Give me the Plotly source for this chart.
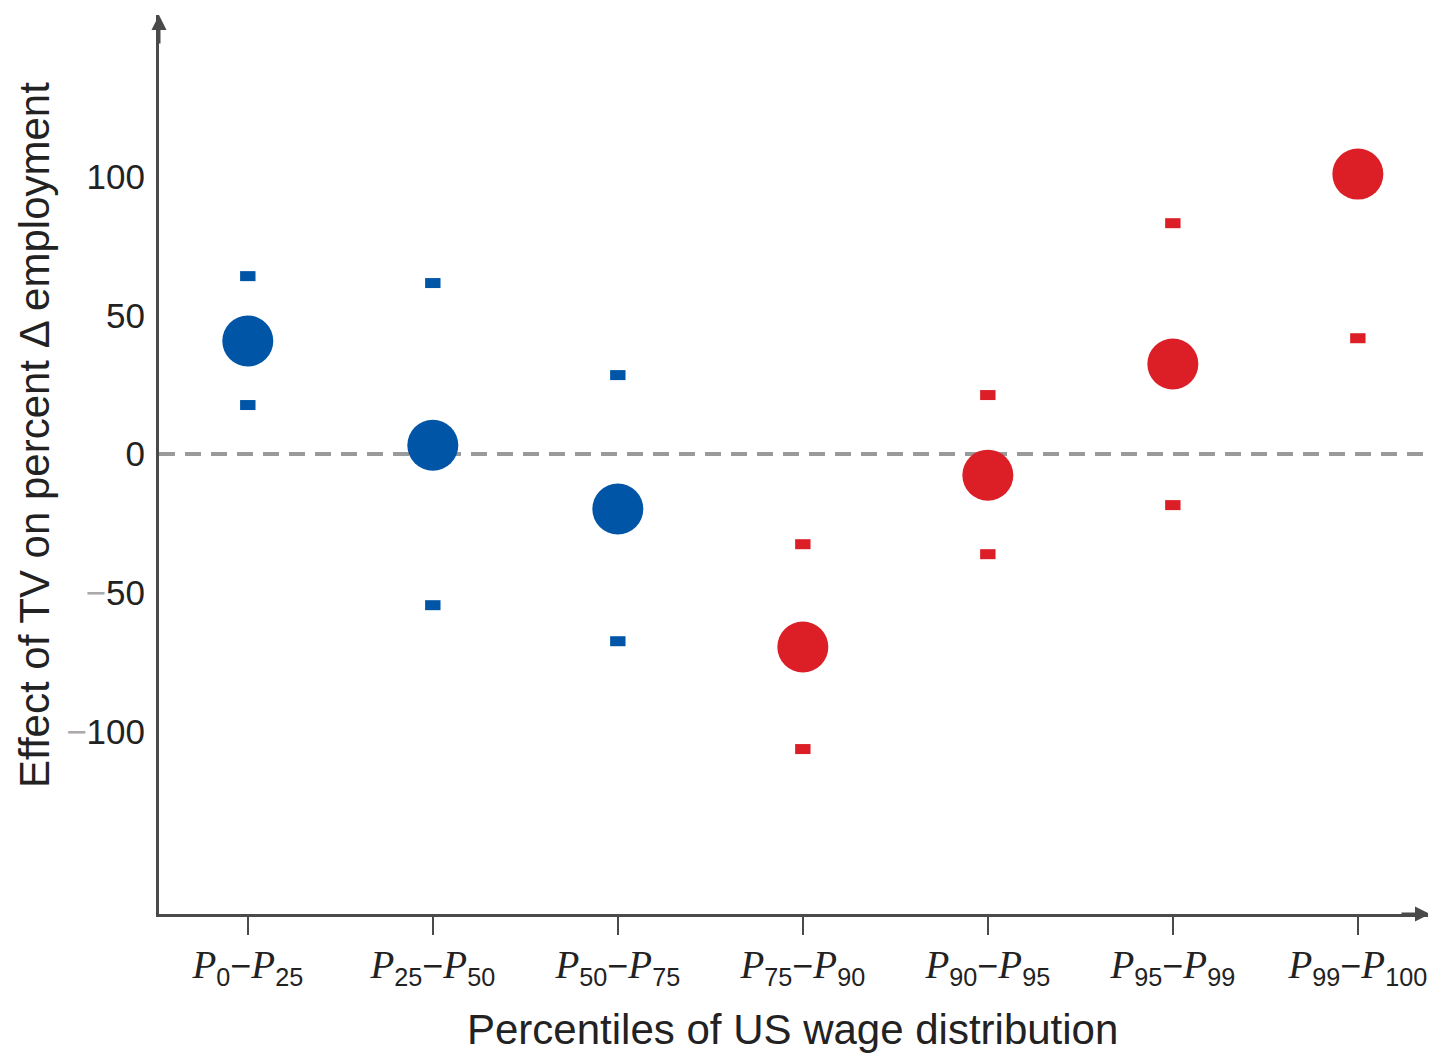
import plotly.graph_objects as go

# ---- data ----
categories = ["P0-P25", "P25-P50", "P50-P75", "P75-P90", "P90-P95", "P95-P99", "P99-P100"]
tick_labels = [
    ("0", "25"), ("25", "50"), ("50", "75"), ("75", "90"),
    ("90", "95"), ("95", "99"), ("99", "100"),
]
estimate = [40.8, 3.2, -19.8, -69.6, -7.6, 32.5, 101.0]
upper_ci = [64.2, 61.7, 28.5, -32.5, 21.3, 83.3, 159.8]
lower_ci = [17.7, -54.5, -67.5, -106.4, -36.1, -18.4, 41.8]
group = ["low", "low", "low", "high", "high", "high", "high"]
y_ticks = [-100, -50, 0, 50, 100]

BLUE = "#0055A6"
RED = "#DC1F27"
colors = [BLUE if g == "low" else RED for g in group]
x_idx = list(range(len(categories)))

SERIF = "font-family:'Liberation Serif','Times New Roman',serif;font-style:italic;font-size:39px"

def fmt_tick(a, b):
    return (f"<span style=\"{SERIF}\">P</span><sub>{a}</sub>"
            f"−<span style=\"{SERIF}\">P</span><sub>{b}</sub>")

def fmt_y(v):
    if v < 0:
        return f"<span style='color:#aaa'>−</span>{abs(v)}"
    return str(v)

fig = go.Figure()

# CI marks
fig.add_trace(go.Scatter(
    x=x_idx + x_idx, y=upper_ci + lower_ci, mode="markers",
    marker=dict(symbol="line-ew", size=11, color=colors + colors,
                line=dict(width=10, color=colors + colors)),
    cliponaxis=False, hoverinfo="skip", showlegend=False))

# point estimates
fig.add_trace(go.Scatter(
    x=x_idx, y=estimate, mode="markers",
    marker=dict(symbol="circle", size=51, color=colors, line=dict(width=0)),
    cliponaxis=False, showlegend=False))

# zero dashed line
fig.add_shape(type="line", xref="paper", x0=0, x1=1, yref="y", y0=0, y1=0,
              line=dict(color="#9a9a9a", width=4, dash="16px,10px"), layer="below")

axis_color = "#4a4a4a"
W, H = 1428, 1045
fig.update_layout(
    width=W, height=H,
    margin=dict(l=151, r=6, t=7, b=139),
    plot_bgcolor="white", paper_bgcolor="white",
    font=dict(family="Liberation Sans, Arial, sans-serif", color="#222"),
    xaxis=dict(
        range=[-0.48, 6.39], tickmode="array", tickvals=x_idx,
        ticktext=[fmt_tick(a, b) for a, b in tick_labels],
        ticks="outside", ticklen=18, tickwidth=2, tickcolor=axis_color,
        showline=True, linecolor=axis_color, linewidth=3,
        showgrid=False, zeroline=False,
        tickfont=dict(size=36, color="#222"),
    ),
    yaxis=dict(
        range=[-165.9, 158.4], tickmode="array", tickvals=y_ticks,
        ticktext=[fmt_y(v) for v in y_ticks],
        ticks="", showline=True, linecolor=axis_color, linewidth=3,
        showgrid=False, zeroline=False, ticklabelstandoff=4,
        tickfont=dict(size=35, color="#222"),
    ),
    annotations=[
        dict(text="Effect of TV on percent Δ employment", xref="paper", yref="paper",
             x=(27 - 151) / 1271, y=(906 - 427) / 899, textangle=-90, showarrow=False,
             font=dict(size=42, color="#222"), xanchor="center", yanchor="middle"),
        dict(text="Percentiles of US wage distribution", xref="paper", yref="paper",
             x=(784 - 151) / 1271, y=(906 - 1022) / 899, showarrow=False,
             font=dict(size=42, color="#222"), xanchor="center", yanchor="middle"),
        # axis arrows
        dict(x=0, y=1, xref="paper", yref="paper", ax=0, ay=30, showarrow=True,
             arrowhead=2, arrowsize=1, arrowwidth=3, arrowcolor=axis_color, text=""),
        dict(x=1, y=0, xref="paper", yref="paper", ax=-30, ay=0, showarrow=True,
             arrowhead=2, arrowsize=1, arrowwidth=3, arrowcolor=axis_color, text=""),
    ],
)

fig.write_html("out.html")
